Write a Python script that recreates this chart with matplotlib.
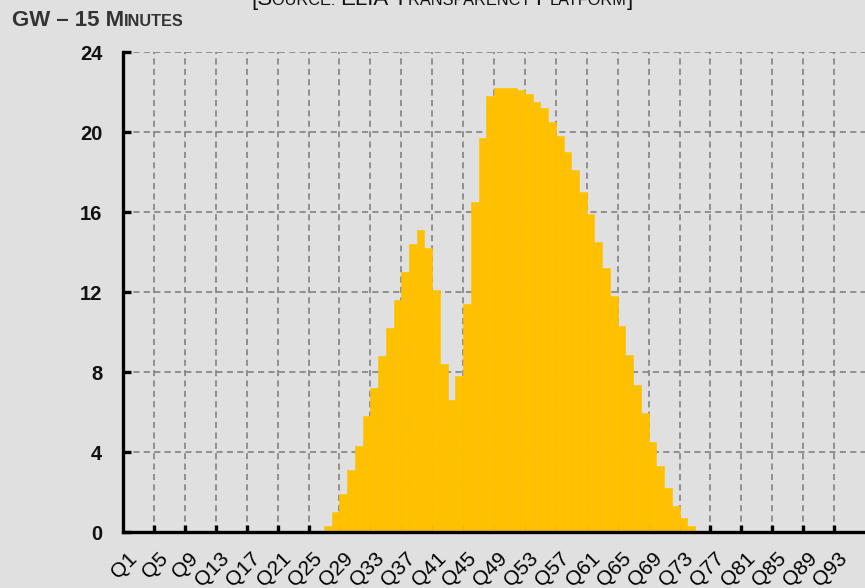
#!/usr/bin/env python3

import numpy as np
import matplotlib.pyplot as plt

# Quarter-hour labels Q1..Q96 and solar output (GW)
quarters = ['Q%i' % q for q in range(1, 97)]
solar_gw = [
    0.0, 0.0, 0.0, 0.0, 0.0, 0.0, 0.0, 0.0, 0.0, 0.0, 0.0, 0.0,
    0.0, 0.0, 0.0, 0.0, 0.0, 0.0, 0.0, 0.0, 0.0, 0.0, 0.0, 0.0,
    0.0, 0.0, 0.3, 1.0, 1.9, 3.1, 4.3, 5.8, 7.2, 8.8, 10.2, 11.6,
    13.0, 14.4, 15.1, 14.2, 12.1, 8.4, 6.6, 7.8, 11.4, 16.5, 19.7, 21.8,
    22.2, 22.2, 22.2, 22.1, 21.9, 21.5, 21.2, 20.5, 19.8, 19.0, 18.1, 17.0,
    15.9, 14.5, 13.2, 11.8, 10.3, 8.85, 7.35, 5.95, 4.5, 3.3, 2.2, 1.3,
    0.7, 0.3, 0.0, 0.0, 0.0, 0.0, 0.0, 0.0, 0.0, 0.0, 0.0, 0.0,
    0.0, 0.0, 0.0, 0.0, 0.0, 0.0, 0.0, 0.0, 0.0, 0.0, 0.0, 0.0,
]
y_ticks = [0, 4, 8, 12, 16, 20, 24]
label_step = 4

BG = '#e0e0e0'
BAR = '#ffc000'
FONT = 'Liberation Sans'


def small_caps(fig, x_px, y_px, parts, color, weight='bold'):
    # parts: list of (text, size); chained left to right on one baseline,
    # positions in pixels from the bottom-left corner
    renderer = fig.canvas.get_renderer()
    for txt, size in parts:
        t = fig.text(x_px, y_px, txt, fontsize=size, color=color,
                     fontweight=weight, family=FONT, va='baseline',
                     ha='left', transform=None)
        x_px += t.get_window_extent(renderer).width


def main():
    W, H = 865, 588
    fig = plt.figure(figsize=(W / 100, H / 100), dpi=100, facecolor=BG)
    ax = fig.add_axes([123 / W, (H - 532) / H, (W - 123) / W, (532 - 52) / H])
    ax.set_facecolor(BG)

    x = np.arange(len(quarters))
    ax.bar(x, solar_gw, width=1.0, color=BAR, edgecolor=BAR, linewidth=0.4,
           zorder=2)

    ax.set_xlim(-0.5, len(quarters) - 0.5)
    ax.set_ylim(0, 24)

    # tick marks between groups of four quarters, labels on Q1, Q5, ...
    ax.set_xticks(np.arange(label_step - 0.5, len(quarters) - 1, label_step))
    ax.set_xticklabels([])
    ax.set_xticks(x[::label_step], minor=True)
    ax.set_xticklabels(quarters[::label_step], minor=True, rotation=45,
                       ha='right', va='top', rotation_mode='anchor',
                       fontsize=15, family=FONT, color='black')
    ax.tick_params(axis='x', which='major', direction='in', length=5,
                   width=2.4, color='black')
    ax.tick_params(axis='x', which='minor', length=0, pad=12)

    ax.set_yticks(y_ticks)
    ax.set_yticklabels([str(v) for v in y_ticks], fontsize=14.5,
                       fontweight='bold', family=FONT, color='#111111')
    ax.tick_params(axis='y', direction='in', length=6, width=2.4,
                   color='black', pad=15)

    ax.set_axisbelow(True)
    ax.grid(True, which='major', color='#7a7a7a', linewidth=1.1,
            linestyle=(0, (4.0, 2.8)))

    for side in ('top', 'right'):
        ax.spines[side].set_visible(False)
    for side in ('left', 'bottom'):
        ax.spines[side].set_linewidth(2.4)
        ax.spines[side].set_color('black')
        ax.spines[side].set_zorder(3)

    # unit caption, small caps
    small_caps(fig, 12, H - 26, [('GW \u2013 15 M', 16), ('INUTES', 11.7)],
               '#333333')

    # source line, mostly cut off at the top edge
    small_caps(fig, 251, H - 5,
               [('[S', 16), ('OURCE: ', 11.7), ('ELIA', 16),
                (' T', 16), ('RANSPARENCY ', 11.7), ('P', 16),
                ('LATFORM', 11.7), (']', 16)], '#111111', weight='normal')

    fig.savefig('out.png', dpi=100, facecolor=BG)


if __name__ == "__main__":
    main()
